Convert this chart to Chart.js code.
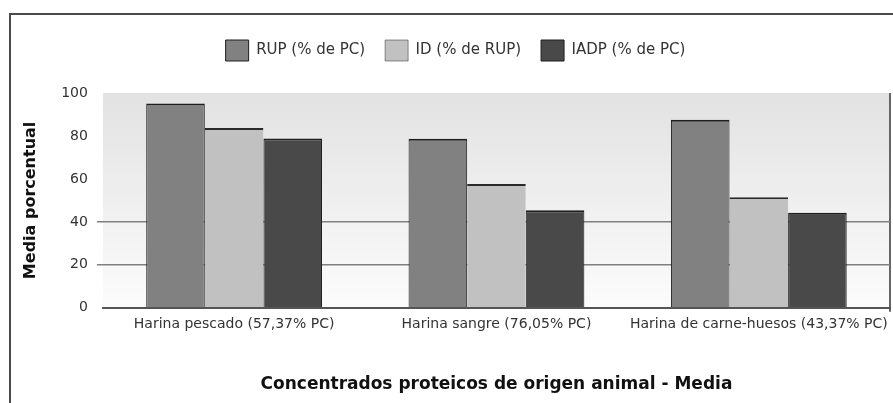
<!DOCTYPE html>
<html>
<head>
<meta charset="utf-8">
<script src="https://cdn.jsdelivr.net/npm/chart.js@4/dist/chart.umd.min.js"></script>
<style>
html,body{margin:0;padding:0;background:#fff;}
#wrap{position:relative;width:893px;height:403px;}
</style>
</head>
<body>
<div id="wrap"><canvas id="c" width="893" height="403"></canvas></div>
<script>
const categories = ["Harina pescado (57,37% PC)", "Harina sangre (76,05% PC)", "Harina de carne-huesos (43,37% PC)"];
const seriesNames = ["RUP (% de PC)", "ID (% de RUP)", "IADP (% de PC)"];
const rupValues = [95.1, 78.7, 87.6];
const idValues = [83.7, 57.6, 51.5];
const iadpValues = [78.8, 45.4, 44.2];
const yTicks = [0, 20, 40, 60, 80, 100];
const yTitle = "Media porcentual";
const xTitle = "Concentrados proteicos de origen animal - Media";

const FONT = "'DejaVu Sans', Verdana, sans-serif";

const frame = {
  id: 'frame',
  beforeInit(chart) {
    const lg = chart.legend;
    if (lg) {
      const origFit = lg.fit;
      lg.fit = function () { origFit.call(this); this.height += 22; };
    }
  },
  beforeDraw(chart) {
    const ctx = chart.ctx;
    ctx.save();
    ctx.strokeStyle = '#4a4a4a';
    ctx.lineWidth = 2;
    ctx.beginPath();
    ctx.moveTo(10, 403);
    ctx.lineTo(10, 14);
    ctx.lineTo(893, 14);
    ctx.stroke();
    const a = chart.chartArea;
    const g = ctx.createLinearGradient(0, a.top, 0, a.bottom);
    g.addColorStop(0, '#e2e2e2');
    g.addColorStop(1, '#fcfcfc');
    ctx.fillStyle = g;
    ctx.fillRect(a.left, a.top, a.right - a.left, a.bottom - a.top);
    ctx.strokeStyle = '#666';
    ctx.lineWidth = 2;
    ctx.beginPath();
    ctx.moveTo(a.right, a.top);
    ctx.lineTo(a.right, a.bottom + 4);
    ctx.stroke();
    ctx.restore();
  }
};

new Chart(document.getElementById('c'), {
  type: 'bar',
  data: {
    labels: categories,
    datasets: [
      {label: seriesNames[0], data: rupValues, backgroundColor: '#818181', borderColor: '#1e1e1e', borderWidth: {top: 2, left: 1, right: 1, bottom: 0}},
      {label: seriesNames[1], data: idValues, backgroundColor: '#c1c1c1', borderColor: '#2a2a2a', borderWidth: {top: 2, left: 0, right: 0, bottom: 0}},
      {label: seriesNames[2], data: iadpValues, backgroundColor: '#494949', borderColor: '#1e1e1e', borderWidth: {top: 2, left: 1, right: 1, bottom: 0}}
    ]
  },
  options: {
    responsive: false,
    animation: false,
    devicePixelRatio: 1,
    layout: {padding: {left: 21, right: 3, top: 20, bottom: 8}},
    datasets: {bar: {categoryPercentage: 0.67, barPercentage: 1}},
    plugins: {
      legend: {
        position: 'top',
        labels: {
          font: {family: FONT, size: 15},
          color: '#333',
          boxWidth: 23,
          boxHeight: 21,
          padding: 20,
          useBorderRadius: false
        }
      },
      tooltip: {enabled: false}
    },
    scales: {
      x: {
        afterFit(scale) { scale.paddingRight = 0; scale.paddingLeft = 0; },
        grid: {display: false, drawTicks: false},
        border: {display: true, color: '#555', width: 2},
        ticks: {font: {family: FONT, size: 14}, color: '#333', padding: 8, autoSkip: false, maxRotation: 0},
        title: {display: true, text: xTitle, font: {family: FONT, size: 17, weight: 'bold'}, color: '#111', padding: {top: 34, bottom: 0}}
      },
      y: {
        min: 0, max: 100,
        afterBuildTicks(axis) { axis.ticks = yTicks.map(v => ({value: v})); },
        grid: {
          color: ctx => (ctx.tick && ctx.tick.value > 0 && ctx.tick.value <= 40) ? '#808080' : 'rgba(0,0,0,0)',
          lineWidth: 1.5,
          tickLength: 6,
          drawTicks: true
        },
        border: {display: false},
        ticks: {font: {family: FONT, size: 14}, color: '#333', padding: 9},
        title: {display: true, text: yTitle, font: {family: FONT, size: 16, weight: 'bold'}, color: '#111', padding: {top: 0, bottom: 12}}
      }
    }
  },
  plugins: [frame]
});
</script>
</body>
</html>
